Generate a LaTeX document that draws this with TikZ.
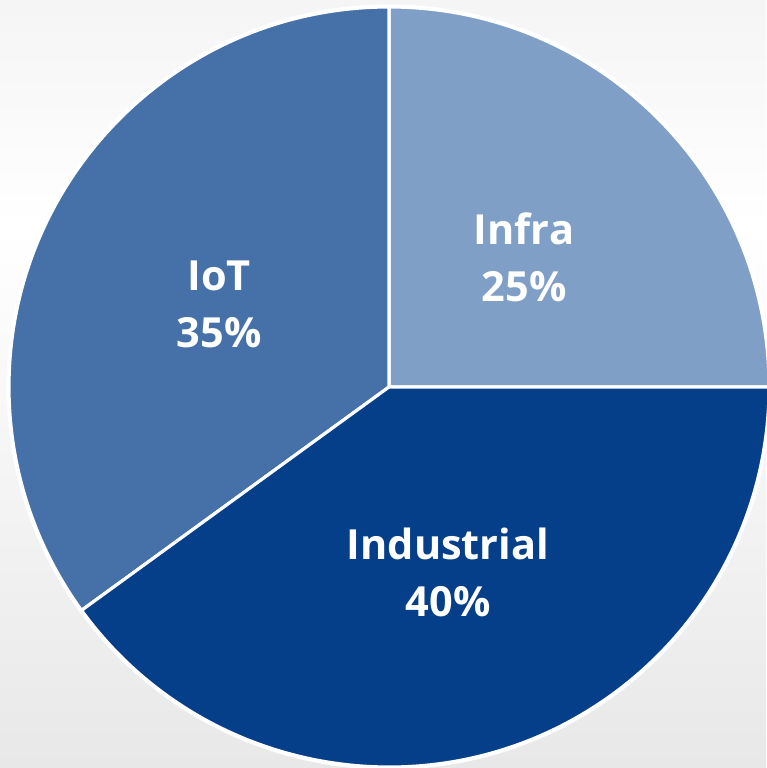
\documentclass[tikz,border=0pt]{standalone}
\usepackage{fontspec}
\setmainfont{Open Sans}
\usepackage{tikz}
\definecolor{infrac}{HTML}{7F9FC6}
\definecolor{iotc}{HTML}{4571A8}
\definecolor{indc}{HTML}{063F89}
\tikzstyle{slice}=[draw=white,line width=0.9pt,line join=round]
\tikzstyle{lbl}=[text=white,font=\fontsize{11.8}{16.2}\selectfont\bfseries,align=center]

\begin{document}
\begin{tikzpicture}[x=0.01cm,y=0.01cm]
    \useasboundingbox (0,0) rectangle (766,768);
    % background
    \fill[top color=white,bottom color=black!9] (0,0) rectangle (766,540);
    \fill[top color=black!4,bottom color=white] (0,540) rectangle (766,768);

    \coordinate (c) at (389,381);
    \foreach \from/\to/\col in {0/90/infrac,90/216/iotc,216/360/indc}
        \filldraw[slice,fill=\col] (c) -- ++(\from:380)
            arc[start angle=\from,end angle=\to,radius=380] -- cycle;
    \draw[slice] (c) circle[radius=381];

    \foreach \pos/\name/\txt in {{(524,511)/infra/Infra\\25\%},
        {(219,464)/iot/IoT\\35\%},{(448,196)/ind/Industrial\\40\%}}
        \node[lbl] (\name) at \pos {\txt};
\end{tikzpicture}
\end{document}
